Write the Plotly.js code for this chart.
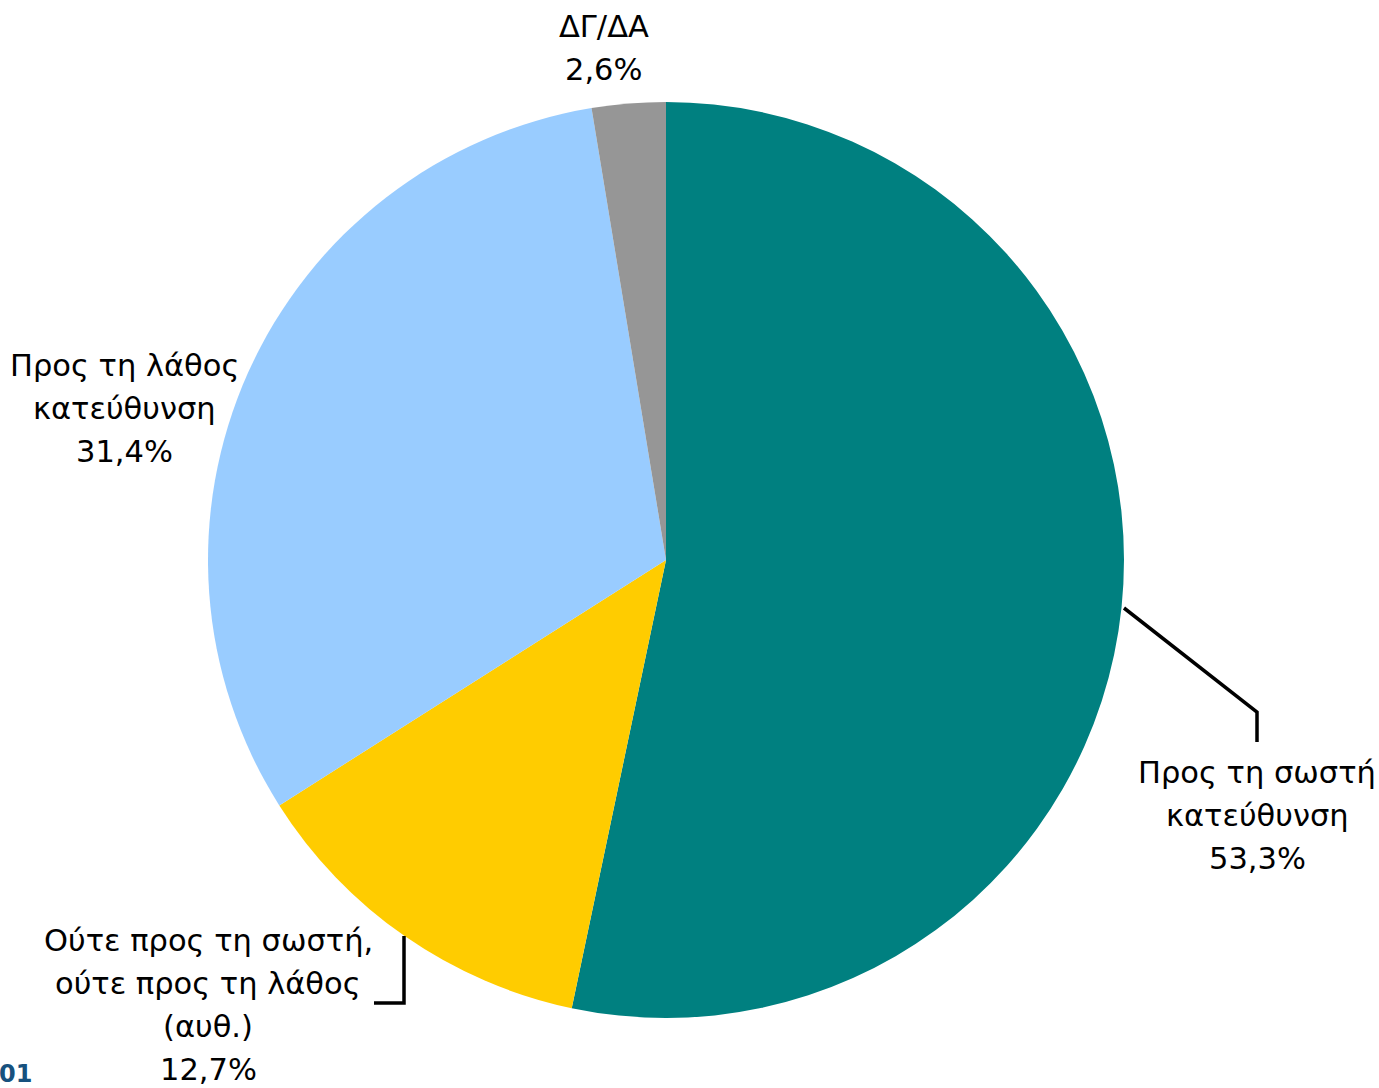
<!DOCTYPE html>
<html>
<head>
<meta charset="utf-8">
<script src="https://cdn.plot.ly/plotly-3.0.1.min.js"></script>
<style>html,body{margin:0;padding:0;background:#fff;}#chart{width:1379px;height:1088px;}</style>
</head>
<body>
<div id="chart"></div>
<script>
const categories = ["Προς τη σωστή<br>κατεύθυνση", "Ούτε προς τη σωστή,<br>ούτε προς τη λάθος<br>(αυθ.)", "Προς τη λάθος<br>κατεύθυνση", "ΔΓ/ΔΑ"];
const values = [53.3, 12.7, 31.4, 2.6];
const colors = ["#008080", "#FFCC00", "#99CCFF", "#969696"];
const valueLabels = ["53,3%", "12,7%", "31,4%", "2,6%"];
const footnote = "01";

const W = 1379, H = 1088;
const px = x => x / W;
const py = y => 1 - y / H;

// label block centres (pixels) and line spacing
const labelPos = [[1257, 815], [208, 1005], [124, 408], [604, 48]];
const lineGap = 43;
const font = {family: "DejaVu Sans, Verdana, sans-serif", size: 30.5, color: "#000"};

const annotations = [];
categories.forEach((c, i) => {
  const lines = c.split("<br>").concat([valueLabels[i]]);
  const n = lines.length;
  lines.forEach((t, k) => {
    const y = labelPos[i][1] + (k - (n - 1) / 2) * lineGap;
    annotations.push({
      text: t, xref: "paper", yref: "paper",
      x: px(labelPos[i][0]), y: py(y),
      xanchor: "center", yanchor: "middle",
      showarrow: false, font: font
    });
  });
});
annotations.push({
  text: "<b>" + footnote + "</b>", xref: "paper", yref: "paper",
  x: px(-3), y: py(1074), xanchor: "left", yanchor: "middle",
  showarrow: false, font: {family: "DejaVu Sans, Verdana, sans-serif", size: 24, color: "#17517E"}
});

const line = {color: "#000", width: 3.5};
const shapes = [
  {type: "path", xref: "paper", yref: "paper",
   path: `M ${px(1124)} ${py(608)} L ${px(1257)} ${py(712)} L ${px(1257)} ${py(742)}`, line: line},
  {type: "path", xref: "paper", yref: "paper",
   path: `M ${px(404)} ${py(936)} L ${px(404)} ${py(1003)} L ${px(374)} ${py(1003)}`, line: line}
];

const trace = {
  type: "pie",
  labels: categories,
  values: values,
  sort: false,
  direction: "clockwise",
  rotation: 0,
  marker: {colors: colors, line: {width: 0}},
  textinfo: "none",
  hoverinfo: "label+percent",
  domain: {x: [px(666 - 458), px(666 + 458)], y: [py(1018), py(102)]}
};

Plotly.newPlot("chart", [trace], {
  width: W, height: H,
  margin: {l: 0, r: 0, t: 0, b: 0},
  showlegend: false,
  paper_bgcolor: "#fff",
  annotations: annotations,
  shapes: shapes
}, {displayModeBar: false});
</script>
</body>
</html>
